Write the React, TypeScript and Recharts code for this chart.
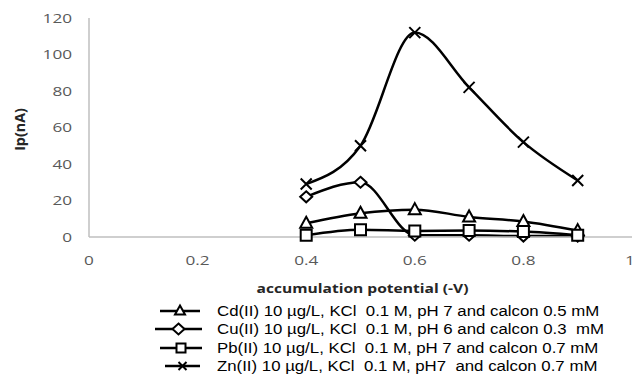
import React from 'react';
import { Line, LineChart, XAxis, YAxis } from 'recharts';

// accumulation potential (-V)
const potentials = [0.4, 0.5, 0.6, 0.7, 0.8, 0.9];

// peak current Ip (nA) for each metal
const cdValues = [7.5, 13, 15, 11, 8.5, 3.5];
const cuValues = [22, 30, 1, 1, 0.5, 0.5];
const pbValues = [1, 4, 3.3, 3.5, 3, 1];
const znValues = [29, 50, 112, 82, 52, 31];

const xTicks = [0, 0.2, 0.4, 0.6, 0.8, 1];
const yTicks = [0, 20, 40, 60, 80, 100, 120];

const seriesNames = [
  'Cd(II) 10 µg/L, KCl  0.1 M, pH 7 and calcon 0.5 mM',
  'Cu(II) 10 µg/L, KCl  0.1 M, pH 6 and calcon 0.3  mM',
  'Pb(II) 10 µg/L, KCl  0.1 M, pH 7 and calcon 0.7 mM',
  'Zn(II) 10 µg/L, KCl  0.1 M, pH7  and calcon 0.7 mM',
];

const data = potentials.map((p, i) => ({
  x: p,
  cd: cdValues[i],
  cu: cuValues[i],
  pb: pbValues[i],
  zn: znValues[i],
}));

type Shape = 'triangle' | 'diamond' | 'square' | 'cross';

const markerPath = (shape: Shape, cx: number, cy: number, s: number) => {
  const h = s / 2;
  switch (shape) {
    case 'triangle':
      return `M${cx},${cy - h - 1}L${cx + h + 0.5},${cy + h - 1}L${cx - h - 0.5},${cy + h - 1}Z`;
    case 'diamond':
      return `M${cx},${cy - h}L${cx + h + 0.5},${cy}L${cx},${cy + h}L${cx - h - 0.5},${cy}Z`;
    case 'square':
      return `M${cx - h},${cy - h}h${s}v${s}h${-s}Z`;
    default:
      return `M${cx - h},${cy - h}L${cx + h},${cy + h}M${cx + h},${cy - h}L${cx - h},${cy + h}`;
  }
};

const makeDot = (shape: Shape, size: number) => (props: any) => {
  const { cx, cy, index } = props;
  if (cx == null || cy == null) return <g key={index} />;
  return (
    <path
      key={index}
      d={markerPath(shape, cx, cy, size)}
      fill={shape === 'cross' ? 'none' : '#fff'}
      stroke='#000'
      strokeWidth={2}
    />
  );
};

const series: { key: string; shape: Shape }[] = [
  { key: 'cd', shape: 'triangle' },
  { key: 'cu', shape: 'diamond' },
  { key: 'pb', shape: 'square' },
  { key: 'zn', shape: 'cross' },
];

// the original text is stretched sideways, so scale it a bit
const STRETCH = 1.32;

const YTick = (props: any) => {
  const { x, y, payload } = props;
  return (
    <text
      transform={`translate(${x},${y}) scale(${STRETCH},1)`}
      textAnchor='end'
      dy='0.35em'
      fill='#595959'
      fontSize={13}
      fontFamily='Open Sans'
    >
      {payload.value}
    </text>
  );
};

const XTick = (props: any) => {
  const { x, y, payload } = props;
  return (
    <text
      transform={`translate(${x},${y}) scale(${STRETCH},1)`}
      textAnchor='middle'
      dy='0.71em'
      fill='#595959'
      fontSize={13}
      fontFamily='Open Sans'
    >
      {payload.value}
    </text>
  );
};

const XTitle = (props: any) => {
  const { viewBox } = props;
  const cx = viewBox.x + viewBox.width / 2 + 2;
  return (
    <text
      transform={`translate(${cx},${293}) scale(1.2,1)`}
      textAnchor='middle'
      fill='#262626'
      fontSize={13}
      fontWeight='bold'
      fontFamily='Open Sans'
    >
      accumulation potential (-V)
    </text>
  );
};

const YTitle = (props: any) => {
  const { viewBox } = props;
  const cy = viewBox.y + viewBox.height / 2 + 2;
  return (
    <text
      transform={`translate(${25},${cy}) rotate(-90) scale(1.1,1.1)`}
      textAnchor='middle'
      fill='#262626'
      fontSize={13}
      fontWeight='bold'
      fontFamily='Open Sans'
    >
      Ip(nA)
    </text>
  );
};

const legendRows = [
  { top: 302, lineLeft: 160, lineRight: 200, size: 9 },
  { top: 320, lineLeft: 155, lineRight: 202, size: 11 },
  { top: 339, lineLeft: 160, lineRight: 202, size: 9 },
  { top: 357, lineLeft: 165, lineRight: 200, size: 8 },
];

const App: React.FC = () => {
  return (
    <div
      style={{
        position: 'absolute',
        left: 0,
        top: 0,
        width: 634,
        height: 374,
        background: '#fff',
      }}
    >
      <LineChart
        width={634}
        height={374}
        data={data}
        margin={{ top: 18, right: 2, left: 0, bottom: 77 }}
      >
        <XAxis
          dataKey='x'
          type='number'
          domain={[0, 1]}
          ticks={xTicks}
          tickLine={false}
          tickSize={0}
          tickMargin={19}
          height={60}
          axisLine={{ stroke: '#bfbfbf', strokeWidth: 1.5 }}
          tick={<XTick />}
          label={<XTitle />}
        />
        <YAxis
          type='number'
          domain={[0, 120]}
          ticks={yTicks}
          width={89}
          tickLine={false}
          tickSize={0}
          tickMargin={17}
          axisLine={{ stroke: '#bfbfbf', strokeWidth: 1.5 }}
          tick={<YTick />}
          label={<YTitle />}
        />
        {series.map((s) => (
          <Line
            key={s.key}
            dataKey={s.key}
            type='monotone'
            stroke='#000'
            strokeWidth={2.5}
            dot={makeDot(s.shape, 11)}
            activeDot={false}
            isAnimationActive={false}
          />
        ))}
      </LineChart>
      {series.map((s, i) => {
        const r = legendRows[i];
        const cy = 9;
        const mid = (r.lineLeft + r.lineRight) / 2 + 1;
        return (
          <div
            key={s.key}
            style={{ position: 'absolute', left: 0, top: r.top, height: 18 }}
          >
            <svg
              width={210}
              height={18}
              style={{ position: 'absolute', left: 0, top: 0 }}
            >
              <line
                x1={r.lineLeft}
                x2={r.lineRight}
                y1={cy}
                y2={cy}
                stroke='#000'
                strokeWidth={2.5}
              />
              <path
                d={markerPath(s.shape, mid - 1, cy, r.size)}
                fill={s.shape === 'cross' ? 'none' : '#fff'}
                stroke='#000'
                strokeWidth={2}
              />
            </svg>
            <div
              style={{
                position: 'absolute',
                left: 217,
                top: 0,
                whiteSpace: 'pre',
                fontFamily: 'Liberation Sans',
                fontSize: 14,
                lineHeight: '18px',
                color: '#000',
                transform: 'scaleX(1.2)',
                transformOrigin: 'left center',
              }}
            >
              {seriesNames[i]}
            </div>
          </div>
        );
      })}
    </div>
  );
};

export default App;
